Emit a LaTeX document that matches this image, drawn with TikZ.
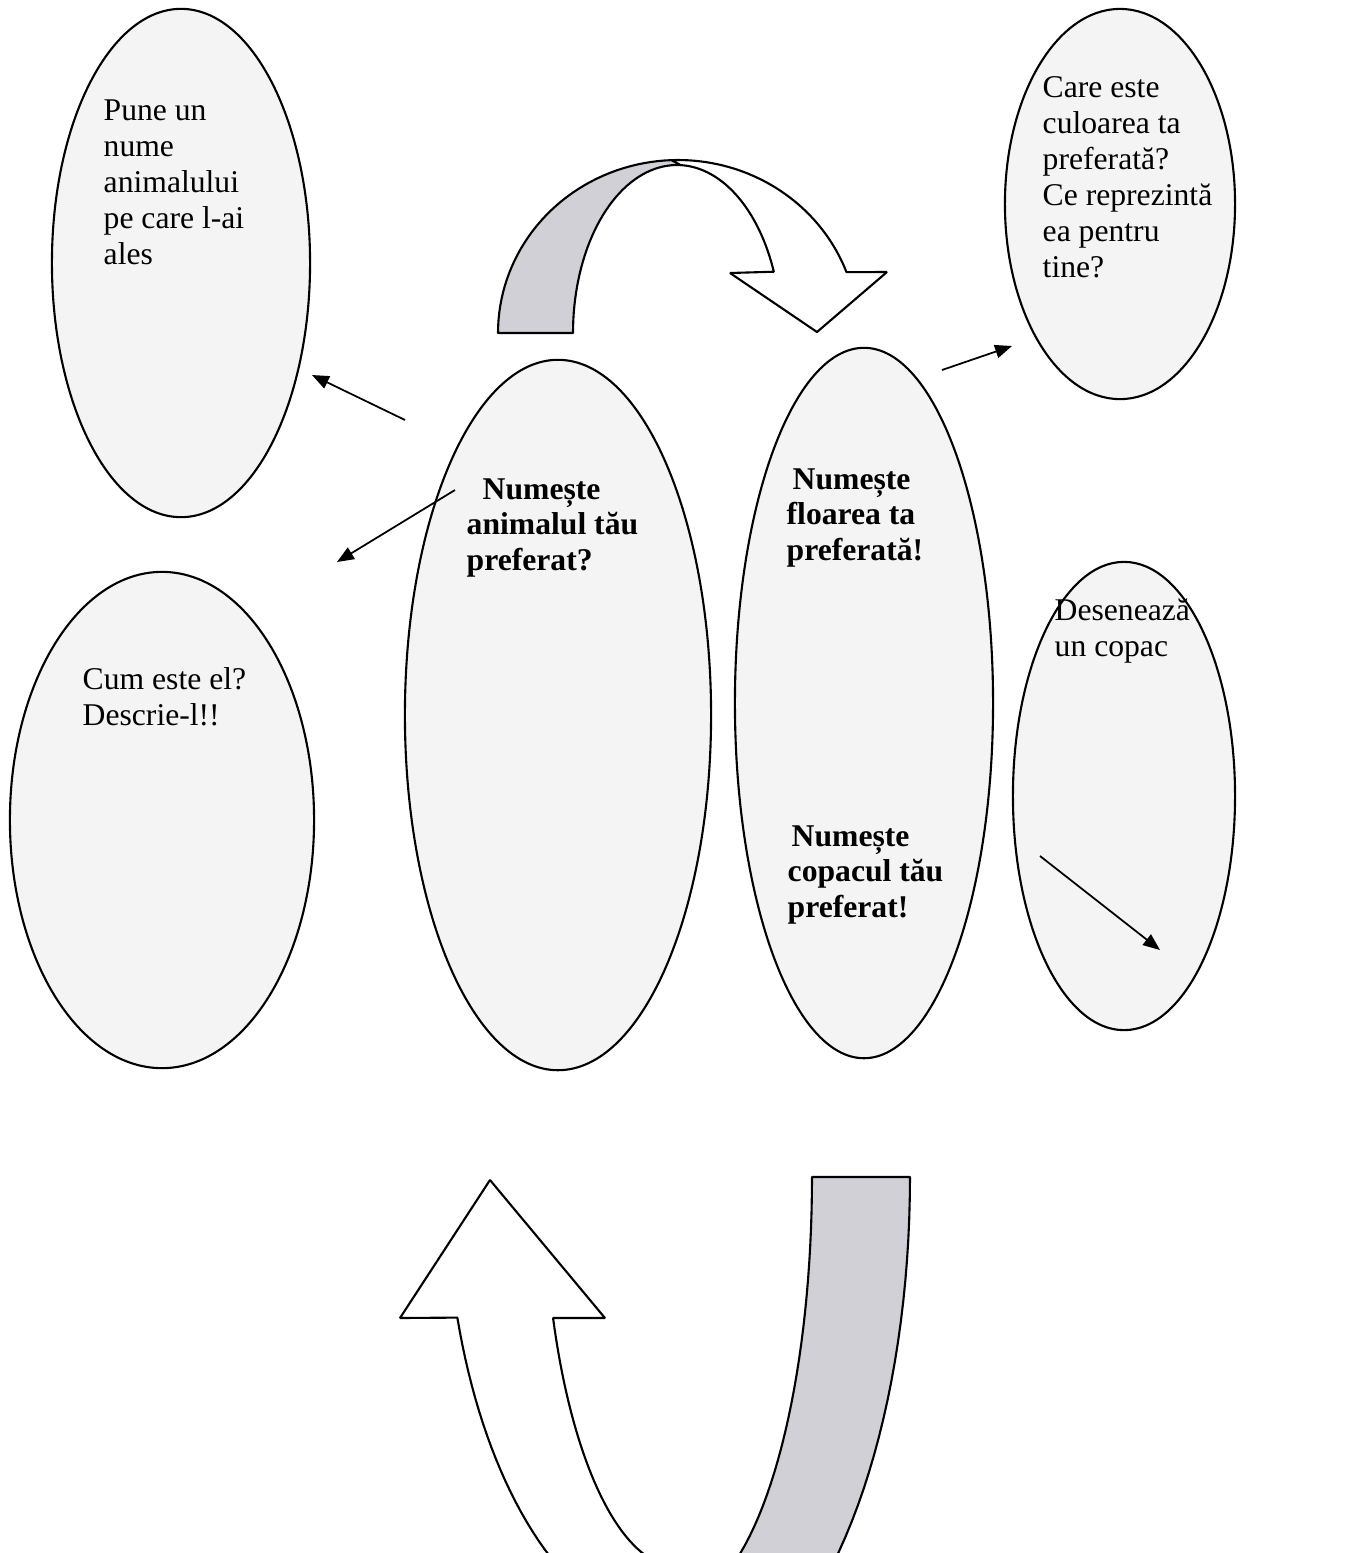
\documentclass[tikz,border=0pt]{standalone}
\usepackage{fontspec}
\setmainfont{Liberation Serif}
\usetikzlibrary{arrows.meta,shapes.geometric}
\definecolor{ellfill}{RGB}{244,244,244}
\definecolor{bandgray}{RGB}{208,208,214}
\begin{document}
\begin{tikzpicture}[x=0.01cm,y=-0.01cm,
  bubble/.style={ellipse,draw,fill=ellfill,line width=0.6pt,inner sep=0pt,outer sep=0pt},
  txt/.style={anchor=north west,align=left,inner sep=0pt,font=\fontsize{9pt}{10.25pt}\selectfont},
  btxt/.style={txt,font=\fontsize{9pt}{10.1pt}\selectfont\bfseries},
  ptr/.style={draw,line width=0.5pt,-{Triangle[length=4.8pt,width=3.8pt]}},
  band/.style={draw,line width=0.6pt,line join=bevel}]
\useasboundingbox (0,0) rectangle (1356,1553);
\clip (0,0) rectangle (1356,1553);
\fill[white] (0,0) rectangle (1356,1553);

% ellipses
\node[bubble,minimum width=2.58cm,minimum height=5.08cm] (e1) at (181,263) {};
\node[bubble,minimum width=3.04cm,minimum height=4.96cm] (e2) at (162,820) {};
\node[bubble,minimum width=3.06cm,minimum height=7.10cm] (e3) at (558,715) {};
\node[bubble,minimum width=2.58cm,minimum height=7.10cm] (e4) at (864,703) {};
\node[bubble,minimum width=2.30cm,minimum height=3.90cm] (e5) at (1120,204) {};
\node[bubble,minimum width=2.22cm,minimum height=4.68cm] (e6) at (1124,796) {};

% texts
\node[txt] (t1) at (103,99) {Pune un\\nume\\animalului\\pe care l-ai\\ales};
\node[txt] (t5) at (1042,76) {Care este\\culoarea ta\\preferată?\\Ce reprezintă\\ea pentru\\tine?};
\node[txt] (t2) at (82,667) {Cum este el?\\Descrie-l!!};
\node[txt] (t6) at (1054,598) {Desenează\\un copac};
\node[btxt] (t3) at (466,478) {\hspace*{0.16cm}Numește\\animalul tău\\preferat?};
\node[btxt] (t4) at (786,468) {\hspace*{0.06cm}Numește\\floarea ta\\preferată!};
\node[btxt] (t7) at (787,825) {\hspace*{0.04cm}Numește\\copacul tău\\preferat!};

% small arrows
\coordinate (a1s) at (405,420); \coordinate (a1e) at (312,375);
\coordinate (a2s) at (455,490); \coordinate (a2e) at (337,562);
\coordinate (a3s) at (942,370); \coordinate (a3e) at (1012,346);
\coordinate (a4s) at (1040,856); \coordinate (a4e) at (1160,950);
\draw[ptr] (a1s) -- (a1e);
\draw[ptr] (a2s) -- (a2e);
\draw[ptr] (a3s) -- (a3e);
\draw[ptr] (a4s) -- (a4e);

% top curved arrow
\draw[band,fill=bandgray]
  plot[domain=180:268,samples=40] ({678+180*cos(\x)},{333+173*sin(\x)})
  -- plot[domain=272:180,samples=40] ({677+104*cos(\x)},{333+168*sin(\x)}) -- cycle;
\draw[band,fill=white]
  plot[domain=268:339.4,samples=40] ({678+180*cos(\x)},{333+173*sin(\x)})
  -- (887,272) coordinate (tb1) -- (817,332) coordinate (tt) -- (730,273) coordinate (tb2)
  -- plot[domain=338.6:272,samples=40] ({677+104*cos(\x)},{333+168*sin(\x)}) -- cycle;

% bottom curved arrow
\draw[band,fill=bandgray]
  plot[domain=0:90,samples=40] ({678+232*cos(\x)},{1177+520*sin(\x)})
  -- plot[domain=90:0,samples=40] ({678+134*cos(\x)},{1177+425*sin(\x)}) -- cycle;
\draw[band,fill=white]
  plot[domain=90:162,samples=40] ({678+232*cos(\x)},{1177+455*sin(\x)})
  -- (400,1318) coordinate (bb1) -- (490,1180) coordinate (bt) -- (605,1318) coordinate (bb2)
  -- plot[domain=158.8:90,samples=40] ({678+134*cos(\x)},{1177+390*sin(\x)}) -- cycle;
\end{tikzpicture}
\end{document}
